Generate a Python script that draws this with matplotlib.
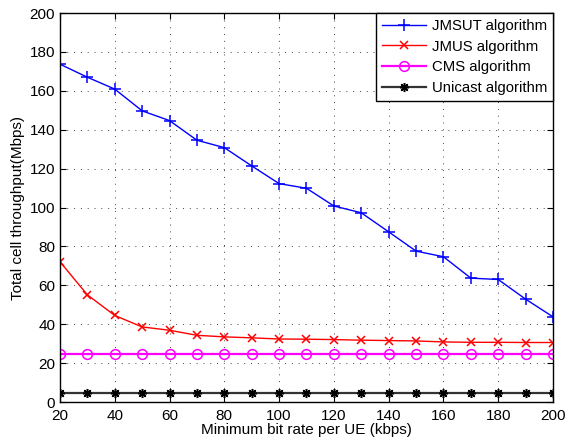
import numpy as np
import matplotlib.pyplot as plt

plt.rcParams["font.family"] = ["Liberation Sans", "DejaVu Sans"]

# minimum bit rate per UE (kbps)
rate = [20, 30, 40, 50, 60, 70, 80, 90, 100, 110,
        120, 130, 140, 150, 160, 170, 180, 190, 200]

# total cell throughput (Mbps)
jmsut = [173.7, 167.0, 160.9, 149.7, 144.7, 134.6, 130.8, 121.4, 112.3, 109.9,
         100.8, 97.3, 87.5, 77.6, 74.7, 63.7, 63.0, 52.9, 43.8]
jmus = [72.1, 55.1, 44.5, 38.6, 36.9, 34.3, 33.5, 33.0, 32.4, 32.3,
        32.1, 31.8, 31.6, 31.4, 30.9, 30.7, 30.7, 30.6, 30.6]
cms = [24.7] * len(rate)
unicast = [4.6] * len(rate)

fig = plt.figure(figsize=(5.66, 4.41), dpi=100)
ax = fig.add_axes([0.106, 0.0884, 0.871, 0.882])

ax.plot(rate, jmsut, color="blue", marker="+", markersize=8, mew=1.1, lw=1,
        label="JMSUT algorithm")
ax.plot(rate, jmus, color="red", marker="x", markersize=5.5, mew=1.1, lw=1,
        label="JMUS algorithm")
ax.plot(rate, cms, color="magenta", marker="o", markersize=7, mfc="none", mew=1.1,
        lw=1.6, label="CMS algorithm")
# matlab-style asterisk: four crossed strokes
ax.plot(rate, unicast, color="#333333", marker=(8, 2, 0), markersize=6.5,
        mec="black", mew=1.1, lw=1.6, label="Unicast algorithm")

ax.set_xlim(20, 200)
ax.set_ylim(0, 200)
ax.set_xticks(np.arange(20, 201, 20))
ax.set_yticks(np.arange(0, 201, 20))
ax.tick_params(direction="in", top=True, right=True, labelsize=11, length=4)
ax.tick_params(axis="x", pad=5)
ax.grid(True, color="#444444", linestyle=(0, (1, 6)), lw=0.7)
for s in ax.spines.values():
    s.set_linewidth(1.0)

ax.set_xlabel("Minimum bit rate per UE (kbps)", fontsize=11, labelpad=0)
ax.set_ylabel("Total cell throughput(Mbps)", fontsize=11, labelpad=3)

leg = ax.legend(loc="upper right", fontsize=10.7, fancybox=False, framealpha=1,
                edgecolor="black", borderaxespad=0, handlelength=3.0,
                handletextpad=0.35, borderpad=0.4, labelspacing=0.45)
leg.get_frame().set_linewidth(1.0)

plt.savefig("out.png", dpi=100)
